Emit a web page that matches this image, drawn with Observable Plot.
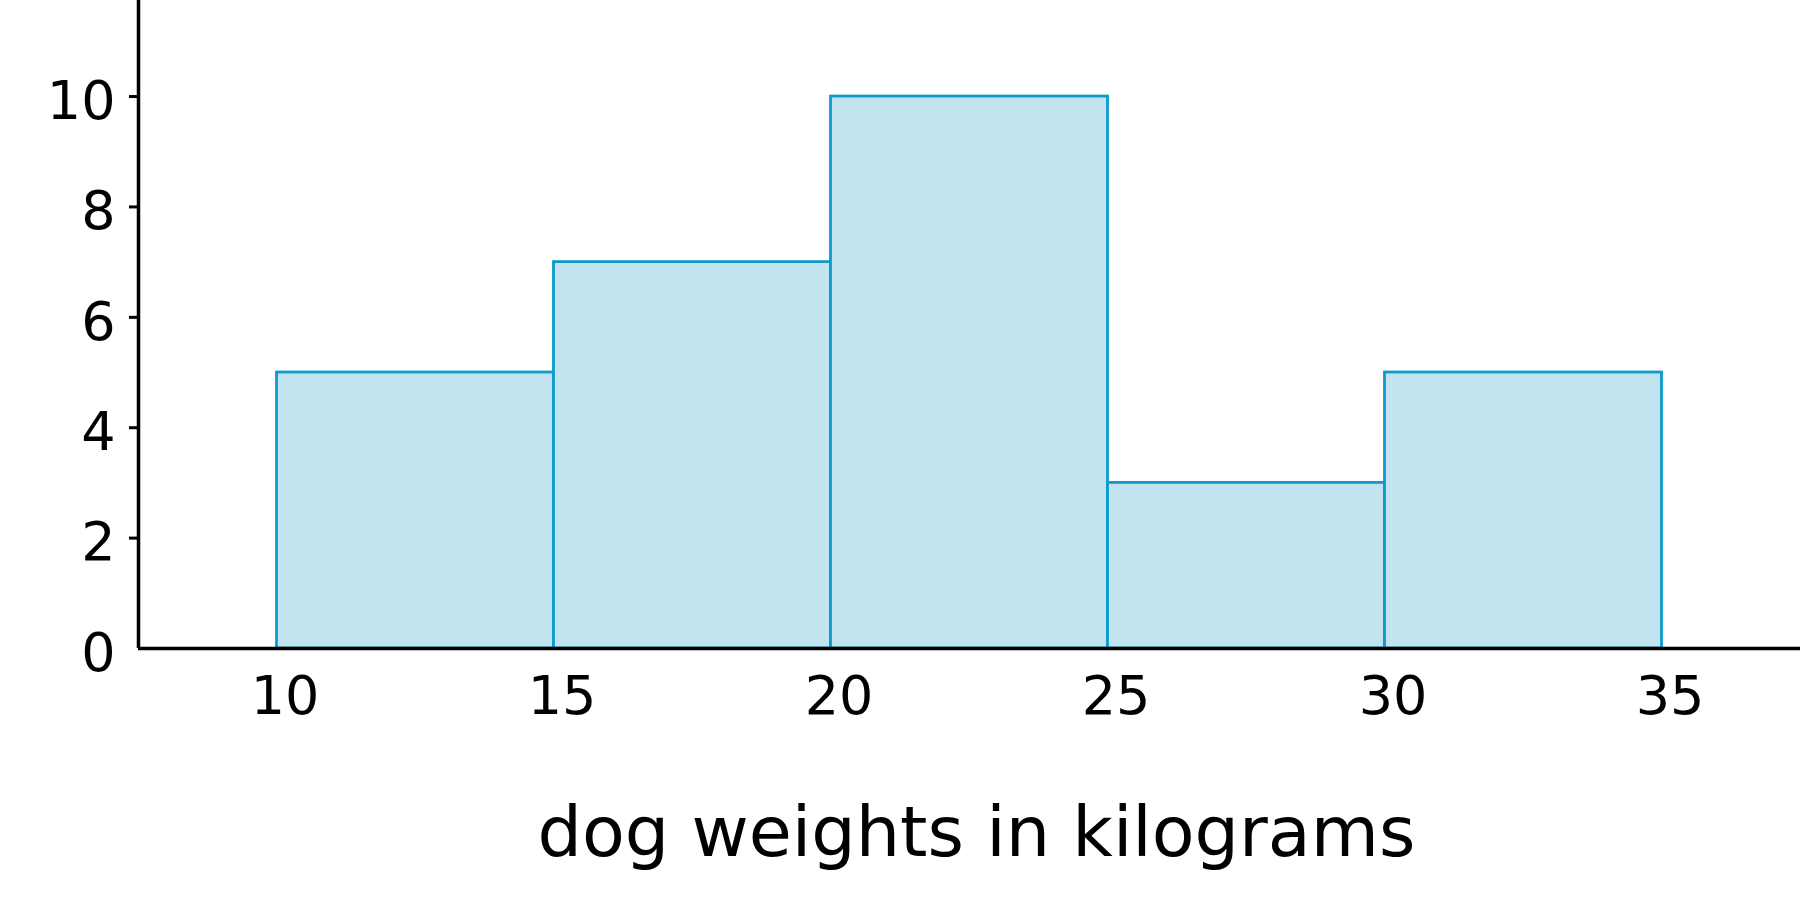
<!DOCTYPE html>
<html>
<head>
<meta charset="utf-8">
<script src="https://cdn.jsdelivr.net/npm/d3@7"></script>
<script src="https://cdn.jsdelivr.net/npm/@observablehq/plot@0.6"></script>
<style>
  html, body { margin: 0; padding: 0; background: #fff; }
  #chart svg { display: block; }
</style>
</head>
<body>
<div id="chart"></div>
<script>
const binStart = [10, 15, 20, 25, 30];
const binEnd = [15, 20, 25, 30, 35];
const counts = [5, 7, 10, 3, 5];
const xTicks = [10, 15, 20, 25, 30, 35];
const yTicks = [0, 2, 4, 6, 8, 10];
const xLabel = "dog weights in kilograms";

const bins = binStart.map((s, i) => ({x1: s, x2: binEnd[i], y: counts[i]}));

const chart = Plot.plot({
  width: 1800,
  height: 921,
  marginLeft: 138,
  marginRight: 0,
  marginTop: 0,
  marginBottom: 273,
  style: {fontFamily: "DejaVu Sans", fontSize: "54px", color: "#000", background: "#fff"},
  x: {domain: [7.5, 37.5]},
  y: {domain: [0, 11.74]},
  marks: [
    Plot.rectY(bins, {x1: "x1", x2: "x2", y: "y", fill: "#c1e4f0", stroke: "#0e9bcc", strokeWidth: 2.8}),
    Plot.axisY({ticks: yTicks.filter(d => d !== 0), tickSize: 9, text: null, label: null, strokeWidth: 3}),
    Plot.axisY({ticks: yTicks, tickSize: 0, tickPadding: 23, dy: 5, label: null, fontSize: 54}),
    Plot.axisX({ticks: xTicks, tickSize: 0, tickPadding: 27, dx: 8, label: null, fontSize: 54}),
    Plot.ruleY([0], {stroke: "#000", strokeWidth: 3.5}),
    Plot.ruleX([7.5], {stroke: "#000", strokeWidth: 3.5}),
    Plot.text([xLabel], {frameAnchor: "bottom", lineAnchor: "bottom", dy: 207, dx: 7, fontSize: 70, fill: "#000"})
  ]
});
document.getElementById("chart").appendChild(chart);
</script>
</body>
</html>
